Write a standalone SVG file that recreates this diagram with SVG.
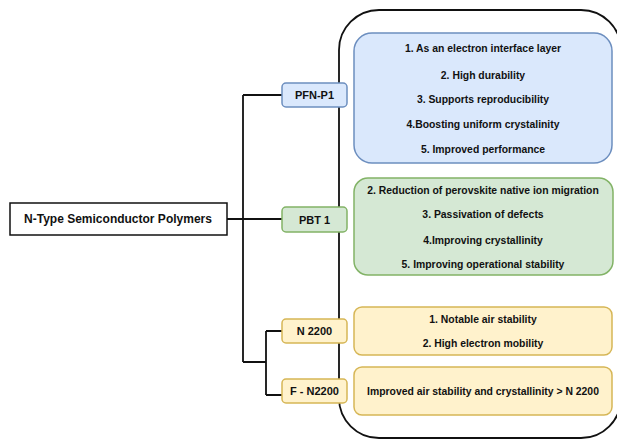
<svg xmlns="http://www.w3.org/2000/svg" width="617" height="439" viewBox="0 0 617 439">
<style>
text{font-family:"Liberation Sans",Arial,sans-serif;font-weight:bold;fill:#111;text-anchor:middle;dominant-baseline:central}
.t{font-size:10.4px}
.lbl{font-size:11px}
.root{font-size:12px}
.c{fill:none;stroke:#111;stroke-width:1.8}
.blue{fill:#dae8fc;stroke:#6c8ebf;stroke-width:1.5}
.green{fill:#d5e8d4;stroke:#82b366;stroke-width:1.5}
.yellow{fill:#fff2cc;stroke:#d6b656;stroke-width:1.5}
</style>
<rect width="617" height="439" fill="#fff"/>
<g id="container"><rect x="339" y="10" width="282" height="428" rx="40" fill="none" stroke="#111" stroke-width="1.8"/></g>
<g id="connectors">
<path class="c" d="M227 219H243M243 95V362M243 95H282M243 219H282M243 362H266M266 331V395M266 331H282M266 395H282"/>
</g>
<g id="root"><rect x="10" y="203" width="217" height="32" fill="#fff" stroke="#111" stroke-width="1.5"/><text class="root" x="118" y="219">N-Type Semiconductor Polymers</text></g>
<g id="pfn"><rect class="blue" x="282" y="83" width="65" height="24" rx="4"/><text class="lbl" x="314.5" y="95">PFN-P1</text></g>
<g id="pbt"><rect class="green" x="282" y="207" width="65" height="25" rx="4"/><text class="lbl" x="314.5" y="219.5">PBT 1</text></g>
<g id="n2200"><rect class="yellow" x="282" y="319" width="65" height="24" rx="4"/><text class="lbl" x="314.5" y="331">N 2200</text></g>
<g id="fn2200"><rect class="yellow" x="282" y="379" width="65" height="24" rx="4"/><text class="lbl" x="314.5" y="391" font-size="10.5">F - N2200</text></g>
<g id="pfn-props"><rect class="blue" x="354" y="33" width="258" height="130" rx="18"/>
<text class="t" x="483" y="48">1. As an electron interface layer</text>
<text class="t" x="483" y="75">2. High durability</text>
<text class="t" x="483" y="99">3. Supports reproducibility</text>
<text class="t" x="483" y="124">4.Boosting uniform crystalinity</text>
<text class="t" x="483" y="149">5. Improved performance</text></g>
<g id="pbt-props"><rect class="green" x="354" y="178" width="259" height="97" rx="14"/>
<text class="t" x="483" y="190">2. Reduction of perovskite native ion migration</text>
<text class="t" x="483" y="214">3. Passivation of defects</text>
<text class="t" x="483" y="240">4.Improving crystallinity</text>
<text class="t" x="483" y="264">5. Improving operational stability</text></g>
<g id="n2200-props"><rect class="yellow" x="354" y="307" width="258" height="48" rx="8"/>
<text class="t" x="483" y="319">1. Notable air stability</text>
<text class="t" x="483" y="343">2. High electron mobility</text></g>
<g id="fn2200-props"><rect class="yellow" x="354" y="367" width="258" height="48" rx="8"/>
<text class="t" x="483" y="391">Improved air stability and crystallinity &gt; N 2200</text></g>
</svg>
